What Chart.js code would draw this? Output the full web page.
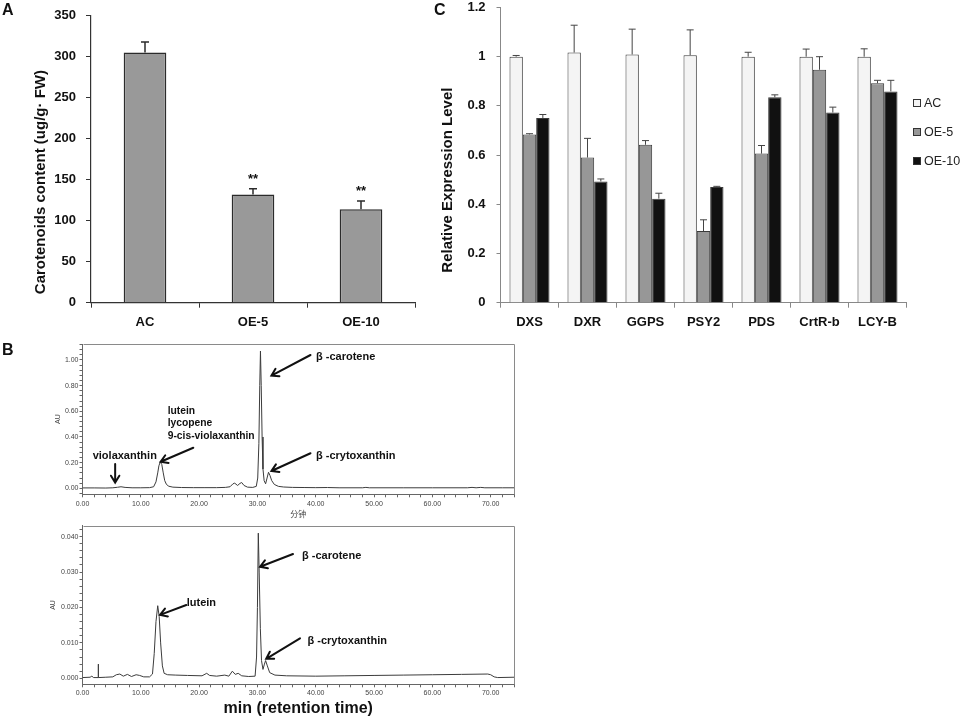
<!DOCTYPE html>
<html>
<head>
<meta charset="utf-8">
<script src="https://cdn.jsdelivr.net/npm/chart.js@4.4.1/dist/chart.umd.min.js"></script>
<style>
html,body{margin:0;padding:0;background:#fff;}
body{width:964px;height:719px;position:relative;overflow:hidden;font-family:"Liberation Sans",Arial,sans-serif;}
canvas{position:absolute;display:block;}
.txt{position:absolute;white-space:nowrap;color:#111;}
.panel{font-weight:bold;font-size:16px;line-height:18px;}
.ann{font-weight:bold;font-size:11px;line-height:13px;}
.leg{font-size:12.5px;line-height:14px;color:#222;}
.legbox{position:absolute;width:6px;height:6px;border:1px solid #333;}
</style>
</head>
<body>
<script>
// ---------- Panel A data ----------
const groupsA = ['AC', 'OE-5', 'OE-10'];
const carotenoidA = [305, 132, 114];
const carotenoidErrA = [13, 7, 10];
const sigA = ['', '**', '**'];

// ---------- Panel C data ----------
const genesC = ['DXS', 'DXR', 'GGPS', 'PSY2', 'PDS', 'CrtR-b', 'LCY-B'];
const seriesNamesC = ['AC', 'OE-5', 'OE-10'];
const seriesColorsC = ['#f4f4f4', '#979797', '#111111'];
const exprAC = [1.0, 1.017, 1.009, 1.006, 1.0, 1.0, 1.0];
const exprACErr = [0.005, 0.111, 0.103, 0.103, 0.018, 0.031, 0.032];
const exprOE5 = [0.684, 0.59, 0.642, 0.291, 0.606, 0.947, 0.892];
const exprOE5Err = [0.003, 0.078, 0.017, 0.046, 0.033, 0.053, 0.012];
const exprOE10 = [0.751, 0.493, 0.423, 0.47, 0.835, 0.773, 0.859];
const exprOE10Err = [0.014, 0.01, 0.022, 0.003, 0.01, 0.022, 0.045];

// ---------- Panel B data (retention time in min, absorbance AU) ----------
const topTime = [0, 2, 4, 5.2, 6.0, 6.6, 7.3, 8.5, 10, 11.5, 12.2, 12.6, 12.9, 13.1, 13.35, 13.6, 13.85, 14.1, 14.4, 14.8, 15.5, 17, 19, 21, 23, 24.5, 25.3, 25.8, 26.1, 26.6, 27.0, 27.3, 27.7, 28.3, 29.2, 29.8, 30.05, 30.25, 30.4, 30.52, 30.65, 30.8, 30.95, 31.15, 31.4, 31.65, 31.9, 32.15, 32.45, 32.9, 33.6, 34.5, 36, 38, 40, 42, 44, 48, 48.6, 49.2, 55, 60, 66, 66.8, 67.5, 68.3, 69, 72, 74];
const topAU = [0.003, 0.003, 0.002, 0.004, 0.008, 0.012, 0.007, 0.004, 0.004, 0.005, 0.012, 0.05, 0.12, 0.175, 0.207, 0.185, 0.12, 0.06, 0.03, 0.016, 0.009, 0.006, 0.005, 0.005, 0.005, 0.007, 0.012, 0.035, 0.04, 0.022, 0.038, 0.045, 0.022, 0.009, 0.007, 0.015, 0.08, 0.35, 0.8, 1.07, 0.8, 0.4, 0.15, 0.06, 0.035, 0.08, 0.125, 0.1, 0.06, 0.03, 0.015, 0.01, 0.007, 0.006, 0.005, 0.006, 0.004, 0.004, 0.007, 0.004, 0.004, 0.004, 0.004, 0.007, 0.004, 0.007, 0.004, 0.004, 0.004];

const botTime = [0, 1.3, 1.6, 1.9, 2.66, 2.7, 2.74, 4, 5.2, 5.8, 6.4, 7.0, 7.7, 8.4, 9.2, 9.8, 10.5, 11.5, 12.0, 12.3, 12.6, 12.9, 13.15, 13.4, 13.7, 14.0, 14.6, 16, 18, 20.5, 21.3, 21.8, 23, 24.4, 25.1, 25.7, 26.2, 26.7, 27.3, 28.5, 29.6, 29.85, 30.0, 30.15, 30.3, 30.5, 30.7, 30.95, 31.2, 31.4, 31.7, 32.1, 33, 35, 40, 45, 50, 55, 60, 65, 69.5, 70.0, 70.6, 71.2, 74];
const botAU = [0.0002, 0.0003, 0.0006, 0.0002, 0.0002, 0.004, 0.0002, 0.0003, 0.0004, 0.001, 0.0012, 0.0006, 0.0011, 0.0005, 0.001, 0.0008, 0.0004, 0.0004, 0.0012, 0.007, 0.016, 0.0205, 0.0175, 0.01, 0.0035, 0.0014, 0.001, 0.0009, 0.0008, 0.0007, 0.0014, 0.0008, 0.0006, 0.0009, 0.0006, 0.002, 0.0011, 0.0014, 0.0007, 0.0005, 0.0006, 0.006, 0.02, 0.041, 0.03, 0.014, 0.005, 0.0025, 0.004, 0.005, 0.0035, 0.0016, 0.0009, 0.0007, 0.0006, 0.0007, 0.0008, 0.0009, 0.001, 0.0011, 0.0012, 0.001, 0.0004, 0.0002, 0.0003];

// annotation arrows (data coordinates: [min, AU])
const arrowsTop = [
  {from: [5.6, 0.19], to: [5.6, 0.045]},
  {from: [19.0, 0.316], to: [13.4, 0.207]},
  {from: [39.1, 1.039], to: [32.4, 0.878]},
  {from: [39.1, 0.273], to: [32.4, 0.135]}
];
const arrowsBot = [
  {from: [17.8, 0.0207], to: [13.3, 0.0179]},
  {from: [36.1, 0.0351], to: [30.45, 0.0315]},
  {from: [37.3, 0.0113], to: [31.5, 0.0055]}
];

// ---------- helpers ----------
Chart.defaults.font.family = '"Liberation Sans", Arial, sans-serif';
Chart.defaults.color = '#111';

function makeCanvas(areaL, areaT, areaR, areaB, yW, xH, padR) {
  const L = Math.floor(areaL - yW), T = Math.floor(areaT - 30);
  const W = Math.ceil(areaR + padR - L), H = Math.ceil(areaB + xH - T);
  const c = document.createElement('canvas');
  c.width = W; c.height = H;
  c.style.left = L + 'px'; c.style.top = T + 'px';
  c.style.width = W + 'px'; c.style.height = H + 'px';
  document.body.appendChild(c);
  return {canvas: c, L, T,
    padding: {left: 0, top: areaT - T, right: L + W - areaR, bottom: 0},
    yWidth: areaL - L, xHeight: T + H - areaB};
}

function addText(text, cls, left, top, extra) {
  const d = document.createElement('div');
  d.className = 'txt ' + cls;
  d.style.left = left + 'px'; d.style.top = top + 'px';
  if (extra) Object.assign(d.style, extra);
  d.innerHTML = text;
  document.body.appendChild(d);
  return d;
}

const errorBarPlugin = {
  id: 'errorBars',
  afterDatasetsDraw(chart, args, opts) {
    const ctx = chart.ctx, ys = chart.scales.y;
    chart.data.datasets.forEach((ds, i) => {
      if (!ds.errors) return;
      const meta = chart.getDatasetMeta(i);
      meta.data.forEach((bar, j) => {
        const yTop = ys.getPixelForValue(ds.data[j] + ds.errors[j]);
        ctx.save();
        ctx.strokeStyle = opts.color; ctx.lineWidth = opts.width;
        ctx.beginPath();
        ctx.moveTo(bar.x, bar.y); ctx.lineTo(bar.x, yTop);
        ctx.moveTo(bar.x - opts.cap, yTop); ctx.lineTo(bar.x + opts.cap, yTop);
        ctx.stroke();
        if (ds.marks && ds.marks[j]) {
          ctx.fillStyle = '#111';
          ctx.font = 'bold 13px "Liberation Sans", Arial, sans-serif';
          ctx.textAlign = 'center'; ctx.textBaseline = 'alphabetic';
          ctx.fillText(ds.marks[j], bar.x, yTop - 6);
        }
        ctx.restore();
      });
    });
  }
};

const framePlugin = {
  id: 'frame',
  afterDraw(chart) {
    const {left, top, right, bottom} = chart.chartArea;
    const ctx = chart.ctx;
    ctx.save();
    ctx.strokeStyle = '#8a8a8a'; ctx.lineWidth = 1;
    ctx.beginPath();
    ctx.moveTo(Math.round(left) + 0.5, Math.round(top) + 0.5);
    ctx.lineTo(Math.round(right) + 0.5, Math.round(top) + 0.5);
    ctx.lineTo(Math.round(right) + 0.5, Math.round(bottom) + 0.5);
    ctx.stroke();
    ctx.restore();
  }
};

function makeArrowPlugin(list) {
  return {
    id: 'arrows',
    afterDatasetsDraw(chart) {
      const ctx = chart.ctx, xs = chart.scales.x, ys = chart.scales.y;
      ctx.save();
      ctx.strokeStyle = '#111'; ctx.lineWidth = 2; ctx.lineCap = 'round';
      list.forEach(a => {
        const x1 = xs.getPixelForValue(a.from[0]), y1 = ys.getPixelForValue(a.from[1]);
        const x2 = xs.getPixelForValue(a.to[0]), y2 = ys.getPixelForValue(a.to[1]);
        const ang = Math.atan2(y2 - y1, x2 - x1), h = 8, sp = 0.55;
        ctx.beginPath();
        ctx.moveTo(x1, y1); ctx.lineTo(x2, y2);
        ctx.moveTo(x2 - h * Math.cos(ang - sp), y2 - h * Math.sin(ang - sp));
        ctx.lineTo(x2, y2);
        ctx.lineTo(x2 - h * Math.cos(ang + sp), y2 - h * Math.sin(ang + sp));
        ctx.stroke();
      });
      ctx.restore();
    }
  };
}

// ---------- Panel A ----------
const gA = makeCanvas(91, 15.7, 415, 302.7, 91, 37.3, 15);
new Chart(gA.canvas, {
  type: 'bar',
  data: {labels: groupsA, datasets: [{
    data: carotenoidA, errors: carotenoidErrA, marks: sigA,
    backgroundColor: '#999999', borderColor: '#2b2b2b', borderWidth: 1.5,
    barPercentage: 0.395, categoryPercentage: 1
  }]},
  options: {
    responsive: false, animation: false, layout: {padding: gA.padding},
    plugins: {legend: {display: false}, tooltip: {enabled: false},
      errorBars: {color: '#2b2b2b', width: 1.5, cap: 4}},
    scales: {
      x: {afterFit: s => { s.height = gA.xHeight; },
        grid: {drawOnChartArea: false, drawTicks: true, tickLength: 5, color: '#333'},
        border: {color: '#333', width: 1.2},
        ticks: {font: {size: 13, weight: 'bold'}, color: '#111', padding: 7, autoSkip: false, maxRotation: 0}},
      y: {min: 0, max: 350, afterFit: s => { s.width = gA.yWidth; },
        ticks: {stepSize: 50, font: {size: 13, weight: 'bold'}, color: '#111', padding: 10},
        grid: {drawOnChartArea: false, drawTicks: true, tickLength: 5, color: '#333'},
        border: {color: '#333', width: 1.2},
        title: {display: true, text: 'Carotenoids content (ug/g· FW)' + ' '.repeat(11),
          font: {size: 15, weight: 'bold'}, color: '#111', padding: {top: 32, bottom: 0}}}
    }
  },
  plugins: [errorBarPlugin]
});

// ---------- Panel C ----------
const gC = makeCanvas(500.5, 7.5, 906.5, 302.7, 80.5, 37.3, 20);
const exprSeries = [exprAC, exprOE5, exprOE10];
const exprErrs = [exprACErr, exprOE5Err, exprOE10Err];
new Chart(gC.canvas, {
  type: 'bar',
  data: {labels: genesC, datasets: seriesNamesC.map((n, i) => ({
    label: n, data: exprSeries[i], errors: exprErrs[i],
    backgroundColor: seriesColorsC[i], borderColor: '#3a3a3a', borderWidth: 1,
    barPercentage: 1, categoryPercentage: 0.69
  }))},
  options: {
    responsive: false, animation: false, layout: {padding: gC.padding},
    plugins: {legend: {display: false}, tooltip: {enabled: false},
      errorBars: {color: '#444', width: 1, cap: 3.5}},
    scales: {
      x: {afterFit: s => { s.height = gC.xHeight; },
        grid: {drawOnChartArea: false, drawTicks: true, tickLength: 5, color: '#888'},
        border: {color: '#888', width: 1},
        ticks: {font: {size: 13, weight: 'bold'}, color: '#111', padding: 7, autoSkip: false, maxRotation: 0}},
      y: {min: 0, max: 1.2, afterFit: s => { s.width = gC.yWidth; },
        ticks: {stepSize: 0.2, font: {size: 13, weight: 'bold'}, color: '#111', padding: 11,
          callback: v => String(Number(v.toFixed(1)))},
        grid: {drawOnChartArea: false, drawTicks: true, tickLength: 4, color: '#888'},
        border: {color: '#888', width: 1},
        title: {display: true, text: 'Relative Expression Level' + ' '.repeat(12),
          font: {size: 15, weight: 'bold'}, color: '#111', padding: {top: 19, bottom: 0}}}
    }
  },
  plugins: [errorBarPlugin]
});

// legend for C (built from the series arrays)
const legendY = [102.7, 131.7, 161];
seriesNamesC.forEach((n, i) => {
  const b = document.createElement('div');
  b.className = 'legbox';
  b.style.left = '913px'; b.style.top = (legendY[i] - 4) + 'px';
  b.style.background = seriesColorsC[i];
  document.body.appendChild(b);
  addText(n, 'leg', 924, legendY[i] - 7);
});

// ---------- Panel B chromatograms ----------
function isMult(v, m) { return Math.abs(v / m - Math.round(v / m)) < 1e-6; }

function chrom(g, times, vals, yMin, yMax, yStep, yMajor, yDec, auPad, xTitle, arrows) {
  return new Chart(g.canvas, {
    type: 'line',
    data: {datasets: [{
      data: times.map((t, i) => ({x: t, y: vals[i]})),
      borderColor: '#3c3c3c', borderWidth: 1, pointRadius: 0, tension: 0, fill: false
    }]},
    options: {
      responsive: false, animation: false, layout: {padding: g.padding},
      plugins: {legend: {display: false}, tooltip: {enabled: false}},
      scales: {
        x: {type: 'linear', min: 0, max: 74, afterFit: s => { s.height = g.xHeight; },
          ticks: {stepSize: 2, includeBounds: false, autoSkip: false, maxRotation: 0,
            font: {size: 7}, color: '#444', padding: xTitle.tickPad,
            callback: v => (isMult(v, 10) ? (Math.abs(v) < 1e-9 ? 0 : v).toFixed(2) : '')},
          grid: {drawOnChartArea: false, drawTicks: true, tickLength: 3, color: '#666'},
          border: {color: '#666', width: 1},
          title: {display: true, text: xTitle.text,
            font: {size: xTitle.size, weight: xTitle.weight, family: xTitle.family},
            color: xTitle.color, padding: {top: 0, bottom: xTitle.padBottom}}},
        y: {min: yMin, max: yMax, afterFit: s => { s.width = g.yWidth; },
          ticks: {stepSize: yStep, includeBounds: false, autoSkip: false,
            font: {size: 7}, color: '#444', padding: 1,
            callback: v => (isMult(v, yMajor) ? (Math.abs(v) < 1e-9 ? 0 : v).toFixed(yDec) : '')},
          grid: {drawOnChartArea: false, drawTicks: true, tickLength: 3, color: '#666'},
          border: {color: '#666', width: 1},
          title: {display: true, text: 'AU', font: {size: 7}, color: '#444', padding: {top: auPad, bottom: 0}}}
      }
    },
    plugins: [framePlugin, makeArrowPlugin(arrows)]
  });
}

const gTop = makeCanvas(82.5, 344, 514, 494.3, 82.5, 27.7, 16);
chrom(gTop, topTime, topAU, -0.0468, 1.1247, 0.04, 0.2, 2, 54.1,
  {text: '分钟', size: 8, weight: 'normal', color: '#444', padBottom: 3.2, tickPad: 3,
   family: '"Noto Sans CJK SC", "Liberation Sans", sans-serif'}, arrowsTop);

const gBot = makeCanvas(82.5, 525.7, 514, 684.3, 82.5, 34.7, 16);
chrom(gBot, botTime, botAU, -0.0017, 0.0431, 0.002, 0.01, 3, 49.1,
  {text: 'min (retention time)', size: 16, weight: 'bold', color: '#111', padBottom: 0.4, tickPad: 2,
   family: '"Liberation Sans", Arial, sans-serif'}, arrowsBot);

// ---------- text annotations ----------
addText('A', 'panel', 2, 1);
addText('C', 'panel', 434, 1);
addText('B', 'panel', 2, 341);

addText('violaxanthin', 'ann', 92.7, 449.2);
addText('lutein<br>lycopene<br>9-cis-violaxanthin', 'ann', 167.7, 404.6, {lineHeight: '12.8px', fontSize: '10.3px'});
addText('β -carotene', 'ann', 316, 350.2);
addText('β -crytoxanthin', 'ann', 316, 448.5);

addText('lutein', 'ann', 186.7, 595.8);
addText('β -carotene', 'ann', 302, 548.5);
addText('β -crytoxanthin', 'ann', 307.5, 633.5);
</script>
</body>
</html>
